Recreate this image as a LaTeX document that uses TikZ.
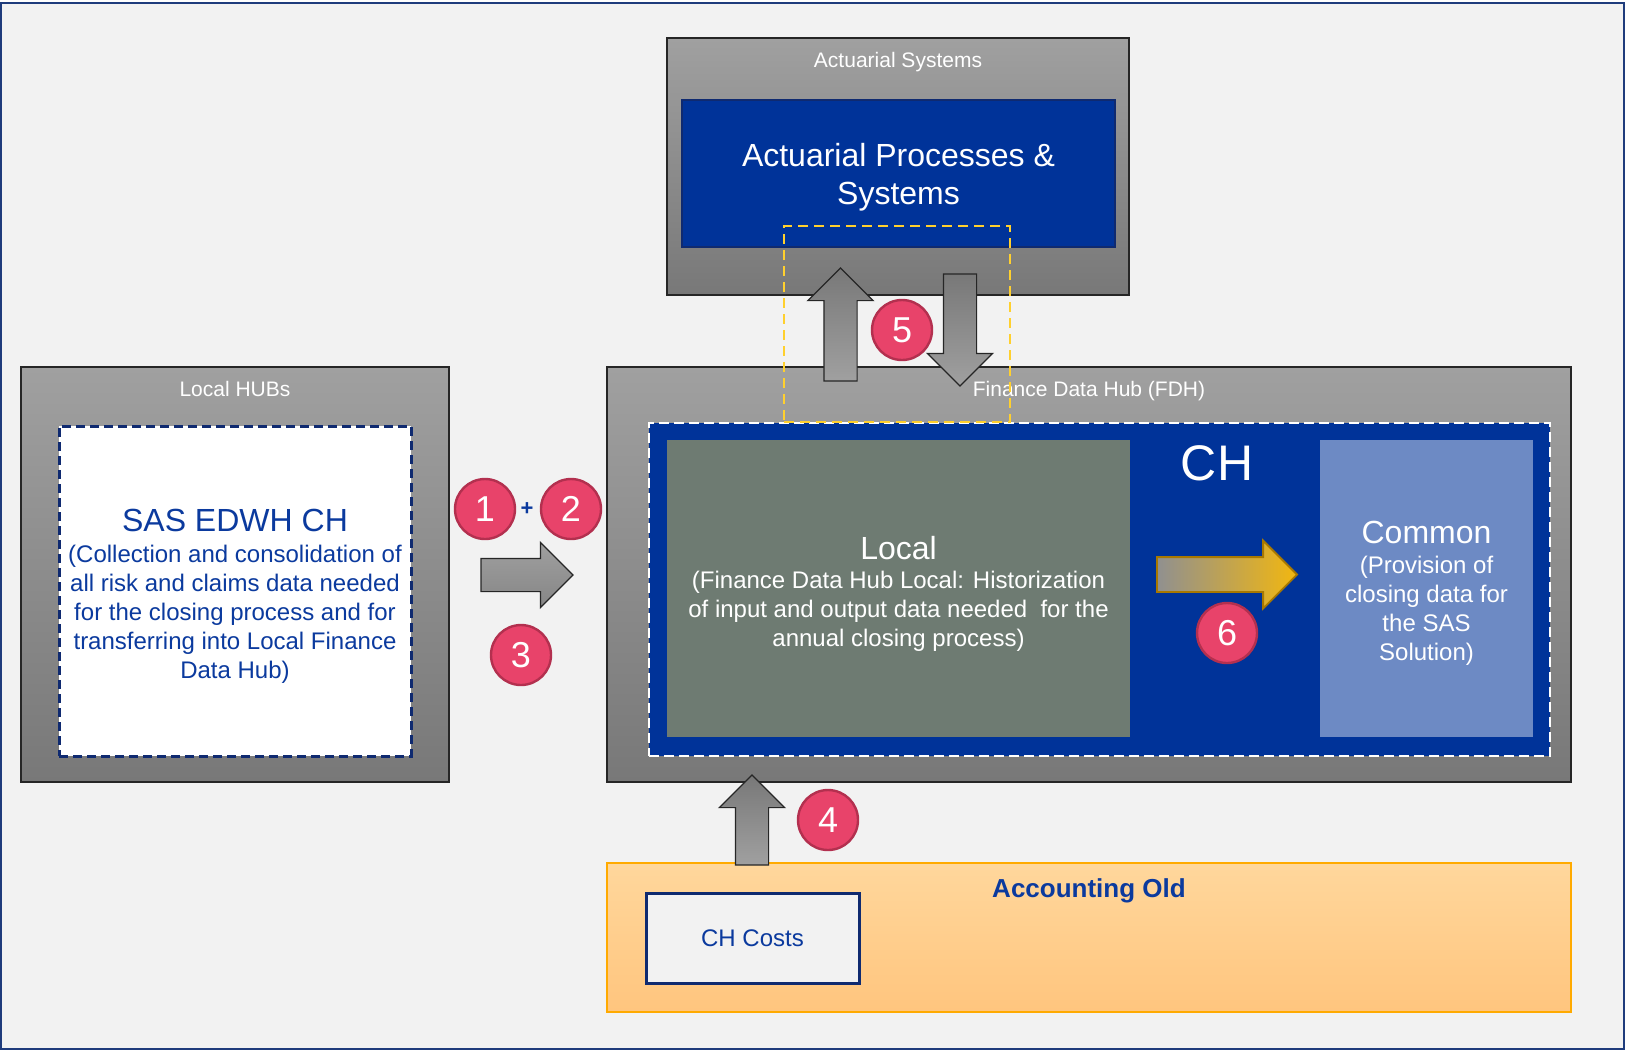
\documentclass[tikz,border=0pt]{standalone}
\usepackage{fontspec}
\setmainfont{Liberation Sans}
\usetikzlibrary{shapes.arrows,positioning}

\definecolor{bgfill}{HTML}{F2F2F2}
\definecolor{framec}{HTML}{1F3C7C}
\definecolor{gtop}{HTML}{A0A0A0}
\definecolor{gbot}{HTML}{787878}
\definecolor{navy}{HTML}{003399}
\definecolor{navyline}{HTML}{0F2A70}
\definecolor{tblue}{HTML}{0B3A9E}
\definecolor{localc}{HTML}{6E7B72}
\definecolor{commonc}{HTML}{6D8AC4}
\definecolor{dotred}{HTML}{E8436A}
\definecolor{dotline}{HTML}{B3304F}
\definecolor{otop}{HTML}{FFD79C}
\definecolor{obot}{HTML}{FFC57E}
\definecolor{oline}{HTML}{FFAA00}
\definecolor{hiyel}{HTML}{FFD02E}
\definecolor{agold}{HTML}{F2B710}
\definecolor{agoldline}{HTML}{A87800}

\newcommand{\fsz}[2]{\fontsize{#1}{#2}\selectfont}

\begin{document}
\begin{tikzpicture}[x=0.5pt, y=-0.5pt]

\tikzstyle{graybox}=[rectangle, draw=black!85, line width=0.7pt, top color=gtop, bottom color=gbot, inner sep=0pt]
\tikzstyle{bluebox}=[rectangle, fill=navy, draw=navyline, line width=1.2pt, inner sep=0pt]
\tikzstyle{flatbox}=[rectangle, inner sep=0pt]
\tikzstyle{boxtitle}=[text=white, font=\fsz{10.5}{12.6}, inner sep=0pt]
\tikzstyle{bigwhite}=[text=white, align=center, font=\fsz{16}{19}, inner sep=0pt]
\tikzstyle{bodywhite}=[text=white, align=center, font=\fsz{12}{14.5}, inner sep=0pt]
\tikzstyle{bodyblue}=[text=tblue, align=center, font=\fsz{12}{14.5}, inner sep=0pt]
\tikzstyle{fatarrow}=[single arrow, draw=black!85, line width=0.6pt, inner xsep=0pt, inner ysep=8pt, minimum width=0pt, single arrow head extend=8pt, outer sep=0pt, anchor=tail]
\tikzstyle{numdot}=[circle, fill=dotred, draw=dotline, line width=1.2pt, minimum size=30pt, inner sep=0pt, text=white, font=\fsz{18}{20}]

\useasboundingbox (0,0) rectangle (1626,1051);
\fill [white] (0,0) rectangle (1626,1051);
\draw [fill=bgfill, draw=framec, line width=1.4pt] (1,3) rectangle (1624,1049);

% actuarial side
\node (actsys) [graybox, minimum width=231pt, minimum height=128.5pt] at (898,166.5) {};
\node (actsysT) [boxtitle, below=7.5pt of actsys.north] {Actuarial Systems};
\node (actproc) [bluebox, minimum width=216.5pt, minimum height=73.5pt] at (898.5,173.5) {};
\node (actprocT) [bigwhite] at (898.5,177) {Actuarial Processes \&\\Systems};

% local hubs
\node (hubs) [graybox, minimum width=214pt, minimum height=207.5pt] at (235,574.5) {};
\node (hubsT) [boxtitle, below=7.5pt of hubs.north] {Local HUBs};
\node (sas) [flatbox, fill=white, draw=navyline, dash pattern=on 4.5pt off 2.5pt, line width=1.5pt, minimum width=176pt, minimum height=165pt] at (235,591) {};
\node (sasT) [bodyblue] at (235,596) {{\fsz{16}{19}SAS EDWH CH}\\[1pt]
  (Collection and consolidation of\\ all risk and claims data needed\\ for the closing process and for\\ transferring into Local Finance\\ Data Hub)};

% finance data hub
\node (fdh) [graybox, minimum width=482pt, minimum height=207.5pt] at (1089,574.5) {};
\node (fdhT) [boxtitle, below=7.5pt of fdh.north] {Finance Data Hub (FDH)};
\node (ch) [flatbox, fill=navy, draw=white, dash pattern=on 5pt off 2.5pt, line width=1.4pt, minimum width=450.5pt, minimum height=166.5pt] at (1099.5,589.5) {};
\node (local) [flatbox, fill=localc, minimum width=231.5pt, minimum height=148.5pt] at (898.5,588.5) {};
\node (localT) [bodywhite] at (898.5,594) {{\fsz{16}{19}Local}\\
  (Finance Data Hub Local: Historization\\ of input and output data needed\ \ for the\\ annual closing process)};
\node (common) [flatbox, fill=commonc, minimum width=106.5pt, minimum height=148.5pt] at (1426.5,588.5) {};
\node (commonT) [bodywhite] at (1426.5,593.5) {{\fsz{16}{19}Common}\\[0.5pt]
  (Provision of\\ closing data for\\ the SAS\\ Solution)};
\node (chT) [text=white, font=\fsz{25}{30}, inner sep=0pt] at (1217,463) {CH};

% accounting
\node (acc) [flatbox, top color=otop, bottom color=obot, draw=oline, line width=0.8pt, minimum width=482pt, minimum height=74.5pt] at (1089,937.5) {};
\node (accT) [text=tblue, font=\fsz{13}{15}\bfseries, inner sep=0pt, below=8pt of acc.north] {Accounting Old};
\node (costs) [flatbox, fill=bgfill, draw=navyline, line width=1.5pt, minimum width=106.5pt, minimum height=45pt, text=tblue, font=\fsz{12}{14.5}] at (752.5,938) {CH Costs};

% flows
\node (a123) [fatarrow, minimum height=46pt, top color=gtop, bottom color=gbot!90] at (481,575) {};
\node (a5up) [fatarrow, rotate=90, minimum height=56.5pt, top color=gbot, bottom color=gtop] at (840.5,381) {};
\node (a5dn) [fatarrow, rotate=-90, minimum height=56pt, top color=gbot, bottom color=gtop] at (960,274) {};
\node (a4) [fatarrow, rotate=90, minimum height=45pt, top color=gbot, bottom color=gtop] at (752,865) {};
\node (a6) [fatarrow, minimum height=70pt, inner ysep=8.25pt, single arrow head extend=8.25pt, draw=agoldline, line width=0.9pt, left color=gtop!90!black, middle color=agold!55!gtop, right color=agold] at (1157,574.5) {};

% step numbers
\node (n1) [numdot] at (485,509) {1};
\node (plus) [text=tblue, font=\fsz{11}{12}\bfseries, inner sep=0pt] at (527,509) {+};
\node (n2) [numdot] at (571,509) {2};
\node (n3) [numdot] at (521,655) {3};
\node (n4) [numdot] at (828,820) {4};
\node (n5) [numdot] at (902,330) {5};
\node (n6) [numdot] at (1227,633) {6};

% highlight
\node (focus) [rectangle, draw=hiyel, dash pattern=on 5pt off 3pt, line width=1.2pt, minimum width=113pt, minimum height=98pt, inner sep=0pt] at (897,324) {};

\end{tikzpicture}
\end{document}
